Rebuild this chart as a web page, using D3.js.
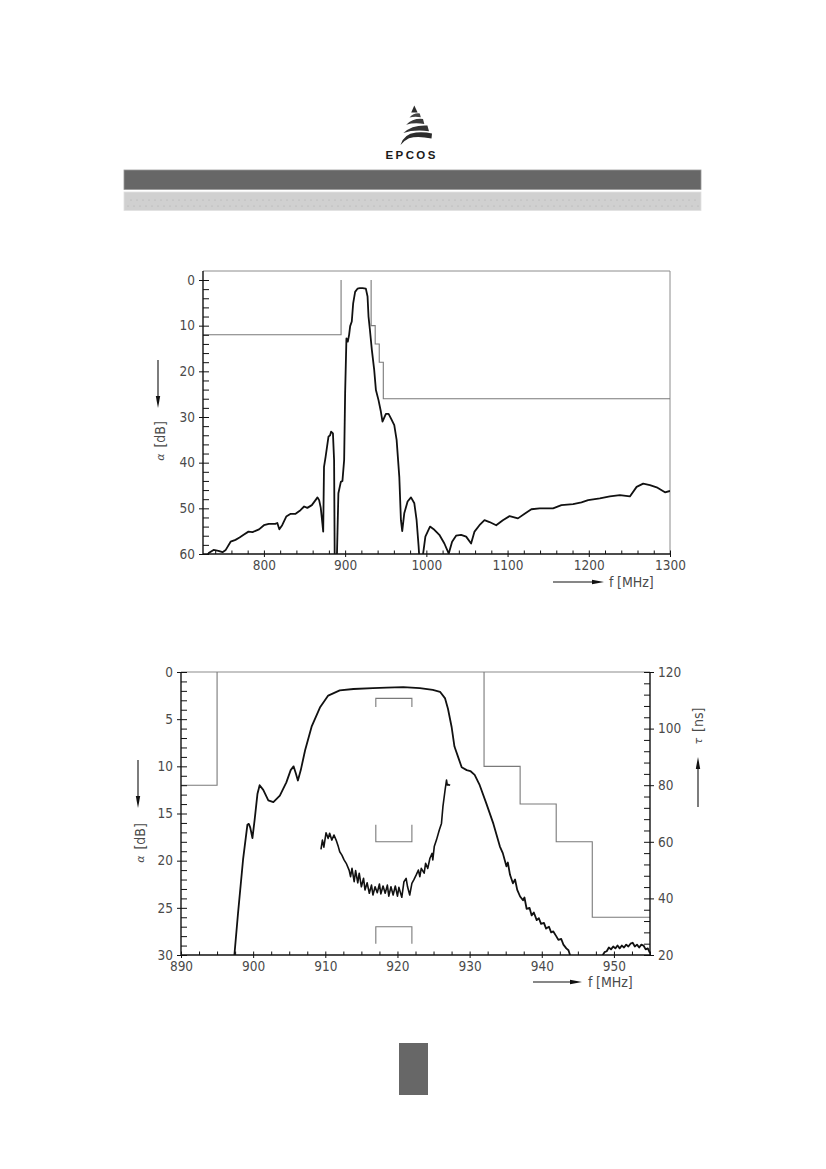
<!DOCTYPE html>
<html>
<head>
<meta charset="utf-8">
<script src="https://cdn.jsdelivr.net/npm/d3@7"></script>
<style>
body { margin: 0; background: #fff; }
svg text { font-family: "Liberation Sans Narrow", "DejaVu Sans Condensed", "Liberation Sans", sans-serif; fill: #4a4a4a; }
</style>
</head>
<body>
<div id="page"></div>
<script>
// ---- wide band attenuation (top chart) ----
var wideF = [728, 732, 738, 744, 749, 753, 759, 765, 770, 775, 781, 786, 794, 800, 806, 814, 816.5, 819, 822.5,
    827.5, 833, 839, 845, 849.5, 853.5, 859, 864, 866, 868, 870, 872, 873, 874, 876, 879.5, 881.5, 882.7, 885,
    886.4, 887.2, 889.7, 891.7, 894.7, 896.7, 898.8, 900, 901.6, 903.3, 904.9, 906.2, 908.2, 909.9, 912.3, 915.2,
    918, 921.4, 925.5, 927.6, 928.8, 930.5, 932.9, 935.8, 937.9, 941.1, 944, 946, 950.2, 953.5, 956.4, 960.5,
    963.4, 966.7, 968.7, 970.3, 972.8, 976.9, 981.1, 985.2, 988, 990.5, 991.8, 994.5, 998.8, 1004.5, 1009.9,
    1016, 1022.2, 1027.6, 1031.7, 1036.6, 1042.8, 1049, 1055.1, 1059.3, 1065.4, 1071.6, 1077.8, 1086, 1094.2,
    1102.5, 1112.8, 1121, 1129.3, 1139.5, 1156, 1166.3, 1180.7, 1191, 1199.2, 1213.6, 1226, 1238.3, 1250.6,
    1258.9, 1267, 1275.3, 1283.6, 1293.8, 1300];
var wideA = [61, 59.8, 59.1, 59.3, 59.6, 59.1, 57.3, 56.9, 56.4, 55.8, 55.1, 55.2, 54.6, 53.7, 53.4, 53.4, 53.2, 54.6, 53.7,
    51.8, 51.2, 51.2, 50.4, 49.6, 49.9, 49.3, 48.1, 47.6, 48.2, 49.9, 53.3, 55.1, 40.9, 38.7, 34.3, 34.0, 33.2, 33.6,
    39.4, 62, 62, 46.7, 44.2, 44.0, 39.4, 24.8, 12.8, 13.5, 12.0, 10.1, 9.1, 5.1, 2.6, 1.9,
    1.8, 1.8, 1.9, 3.6, 8.0, 10.9, 15.3, 19.7, 24.1, 26.3, 28.8, 31.0, 29.3, 29.3, 30.3, 31.8,
    35.0, 43.1, 52.6, 55.0, 51.1, 48.5, 47.6, 48.9, 52.6, 58.4, 62, 62, 56.2, 54.0, 54.7,
    55.8, 57.7, 59.9, 57.3, 56.0, 55.8, 56.2, 57.7, 55.1, 53.7, 52.6, 53.0, 53.7, 52.6,
    51.7, 52.2, 51.2, 50.2, 50.0, 50.0, 49.3, 49.1, 48.7, 48.2, 47.8, 47.4, 47.1, 47.4,
    45.3, 44.6, 44.9, 45.4, 46.5, 46.2];

// ---- pass band attenuation (bottom chart) ----
var passF = [896.5, 897.4, 897.9, 898.6, 899.2, 899.4, 899.6, 899.9, 900.2, 900.6, 900.9, 901.4, 902.1, 902.8, 903.7,
    904.6, 905.2, 905.6, 905.9, 906.2, 906.6, 907.2, 908.1, 909.3, 910.4, 912.0, 913.9, 916.6, 918.5, 920.8,
    923.1, 924.9, 925.9, 926.6, 927.0, 927.5, 927.9, 928.4, 928.9, 929.6, 930.1, 930.7, 931.4, 932.3, 933.3,
    934.2, 934.6, 935.1, 935.3, 935.6, 936.0, 936.3, 936.6, 937.0, 937.4, 937.6, 937.9, 938.3, 938.6, 938.9,
    939.3, 939.6, 939.9, 940.3, 940.6, 941.0, 941.3, 941.6, 942.0, 942.3, 942.7, 943.0, 943.4, 943.7, 944.0,
    946, 948.3, 948.7, 949.0, 949.3, 949.6, 949.9, 950.2, 950.5, 950.8, 951.1, 951.4, 951.7, 952.0, 952.3,
    952.6, 952.9, 953.2, 953.5, 953.8, 954.1, 954.4, 954.7, 955];
var passA = [32, 30, 25.6, 19.9, 16.2, 16.1, 16.5, 17.6, 15.7, 12.9, 12.0, 12.5, 13.6, 13.8, 13.1,
    11.7, 10.4, 10.0, 10.7, 11.5, 10.4, 8.3, 5.8, 3.7, 2.5, 1.95, 1.8, 1.7, 1.65, 1.6,
    1.7, 1.9, 2.1, 2.8, 3.9, 5.8, 7.9, 9.0, 10.1, 10.4, 10.5, 10.9, 12.0, 13.9, 16.1,
    18.5, 19.2, 20.6, 20.2, 21.5, 22.4, 22.0, 23.1, 23.8, 24.2, 23.9, 25.1, 25.0, 25.8, 25.5,
    26.3, 26.1, 26.7, 26.6, 27.2, 27.0, 27.6, 27.5, 28.0, 28.4, 28.3, 28.9, 29.3, 29.5, 30.2,
    31.5, 30.2, 29.7, 29.6, 29.2, 29.4, 29.1, 29.3, 29.0, 29.3, 29.0, 29.2, 28.9, 29.1, 28.8,
    28.7, 29.1, 28.9, 29.2, 28.9, 29.0, 29.4, 29.3, 29.8];

// ---- group delay (bottom chart, right axis) ----
var delayF = [909.4, 909.6, 909.8, 910.1, 910.4, 910.6, 910.9, 911.2, 911.5, 911.8, 912.0, 912.3, 912.6, 912.9,
    913.3, 913.5, 913.7, 914.0, 914.2, 914.5, 914.7, 915.0, 915.3, 915.5, 915.8, 916.1, 916.4, 916.6, 916.9,
    917.2, 917.5, 917.7, 918.0, 918.3, 918.6, 918.8, 919.1, 919.4, 919.7, 920.0, 920.2, 920.6, 920.9, 921.2,
    921.4, 921.7, 922.0, 922.3, 922.6, 922.9, 923.1, 923.3, 923.7, 923.9, 924.2, 924.5, 924.8, 924.9, 925.1,
    925.4, 925.8, 926.1, 926.3, 926.6, 926.8, 926.9, 927.1, 927.3];
var delayT = [57.3, 60.6, 58.1, 63.2, 61.2, 63.0, 60.6, 62.4, 60.6, 58.3, 56.5, 55.3, 53.6, 52.4,
    50.0, 47.7, 50.6, 45.9, 49.8, 45.5, 48.9, 44.1, 47.1, 43.0, 45.5, 41.8, 44.7, 41.2, 44.1,
    42.0, 45.1, 41.6, 44.4, 41.8, 44.7, 40.8, 44.1, 41.2, 44.4, 40.8, 43.9, 40.4, 45.9, 47.1,
    44.1, 41.2, 45.3, 46.7, 48.3, 50.0, 47.7, 50.6, 48.9, 52.4, 50.6, 54.2, 55.9, 53.6, 58.3,
    60.6, 64.2, 66.5, 72.4, 78.3, 81.8, 80.1, 80.2, 80.0];

// ---- tolerance scheme ----
var limitLowF = [725, 895, 895];
var limitLowA = [12, 12, 0];
var limitHighF = [932, 932, 937, 937, 942, 942, 947, 947, 1300];
var limitHighA = [0, 10, 10, 14, 14, 18, 18, 26, 26];
var bracketF = [917, 922];
var bracketAtt = [2.8, 3.7];      // insertion loss mark (dB)
var bracketDelayHi = [60, 66];   // group delay marks (ns)
var bracketDelayLo = [30, 24];

// ---- tick labels ----
var wideXTicks = [800, 900, 1000, 1100, 1200, 1300];
var wideYTicks = [0, 10, 20, 30, 40, 50, 60];
var passXTicks = [890, 900, 910, 920, 930, 940, 950];
var passYTicks = [0, 5, 10, 15, 20, 25, 30];
var delayTicks = [20, 40, 60, 80, 100, 120];

var svg = d3.select("#page")
    .append("svg")
    .attr("width", 826)
    .attr("height", 1169);

var defs = svg.append("defs");

// ===== header =====
var dots = defs.append("pattern")
    .attr("id", "dots")
    .attr("patternUnits", "userSpaceOnUse")
    .attr("x", 124).attr("y", 198)
    .attr("width", 6).attr("height", 12);
dots.append("circle").attr("cx", 1).attr("cy", 2).attr("r", 0.6).attr("fill", "#a8a8a8");
dots.append("circle").attr("cx", 4).attr("cy", 8).attr("r", 0.6).attr("fill", "#a8a8a8");

svg.append("rect").attr("x", 124).attr("y", 170).attr("width", 577).attr("height", 19.5)
    .attr("fill", "#676767").attr("stroke", "#9a9a9a").attr("stroke-width", 0.8);
svg.append("rect").attr("x", 124).attr("y", 192).attr("width", 577).attr("height", 18.5)
    .attr("fill", "#d0d0d0").attr("stroke", "#e0e0e0").attr("stroke-width", 0.8);
svg.append("rect").attr("x", 126).attr("y", 198).attr("width", 573).attr("height", 11)
    .attr("fill", "url(#dots)");

// logo
var logo = svg.append("g").attr("fill", "#2b2b2b");
logo.append("path").attr("d", "M414.3,105.5 L411.2,112.5 L417.6,112.5 Z");
logo.append("path").attr("d", "M409.5,117.5 Q414,112.6 419.8,113.4 L420.8,117.2 Q414.5,116.2 409.5,117.5 Z").attr("fill", "#444");
logo.append("path").attr("d", "M406.2,124.8 Q413,118 423,119 L424.3,124 Q414,122.4 406.2,124.8 Z").attr("fill", "#3a3a3a");
logo.append("path").attr("d", "M403.4,133 Q412,124.8 427.4,125.6 L429,131.2 Q414,129.2 403.4,133 Z").attr("fill", "#333");
logo.append("path").attr("d", "M400.5,145 Q403.5,134 416,132.5 Q425,131.8 432,133.6 L431.5,138.6 Q418,135.6 409,138.2 Q404,140.5 400.5,145 Z").attr("fill", "#2b2b2b");
svg.append("text")
    .attr("x", 385.5).attr("y", 158.5)
    .style("font-family", "'Liberation Sans', Arial, sans-serif")
    .style("font-weight", "bold")
    .style("font-size", "11.5px")
    .style("letter-spacing", "2.4px")
    .style("fill", "#1a1a1a")
    .text("EPCOS");

// page number box
svg.append("rect").attr("x", 399).attr("y", 1043).attr("width", 29).attr("height", 52)
    .attr("fill", "#676767");

// ===== helpers =====
function arrow(x1, y1, x2, y2) {
    var len = Math.hypot(x2 - x1, y2 - y1);
    var ux = (x2 - x1) / len, uy = (y2 - y1) / len;
    var hl = 12, hw = 2.2;
    var bx = x2 - ux * hl, by = y2 - uy * hl;
    svg.append("line")
        .attr("x1", x1).attr("y1", y1).attr("x2", bx).attr("y2", by)
        .attr("stroke", "#111").attr("stroke-width", 1.1);
    svg.append("path")
        .attr("d", "M" + x2 + "," + y2 + " L" + (bx - uy * hw) + "," + (by + ux * hw) +
            " L" + (bx + uy * hw) + "," + (by - ux * hw) + " Z")
        .attr("fill", "#111");
}

function rotTitle(x, y, sym, unit) {
    var t = svg.append("text")
        .attr("transform", "translate(" + x + "," + y + ") rotate(-90)")
        .attr("text-anchor", "middle")
        .attr("dominant-baseline", "central")
        .style("font-size", "14px");
    t.append("tspan").style("font-style", "italic").style("font-family", "'DejaVu Sans', sans-serif")
        .style("font-size", "11px").text(sym);
    t.append("tspan").attr("dx", 6).text(unit);
}

function styleAxis(g) {
    g.select(".domain").remove();
    g.selectAll(".tick line").attr("stroke", "#111").attr("stroke-width", 1);
    g.selectAll(".tick text").style("font-size", "13.5px")
        .style("font-family", "'Liberation Sans Narrow', 'DejaVu Sans Condensed', sans-serif")
        .attr("fill", "#555");
}

function hline(x1, x2, y, col, w) {
    svg.append("line").attr("x1", x1).attr("x2", x2).attr("y1", y).attr("y2", y)
        .attr("stroke", col).attr("stroke-width", w);
}
function vline(x, y1, y2, col, w) {
    svg.append("line").attr("x1", x).attr("x2", x).attr("y1", y1).attr("y2", y2)
        .attr("stroke", col).attr("stroke-width", w);
}

var plain = d3.format("d");

// ===== chart 1: wide band =====
var c1 = {left: 203, right: 670, top: 271, bottom: 554};
var x1 = d3.scaleLinear().domain([725, 1300]).range([c1.left, c1.right]);
var y1 = d3.scaleLinear().domain([0, 60]).range([280, c1.bottom]);

defs.append("clipPath").attr("id", "clip1").append("rect")
    .attr("x", c1.left).attr("y", c1.top)
    .attr("width", c1.right - c1.left).attr("height", c1.bottom - c1.top);

hline(c1.left, c1.right, c1.top, "#8c8c8c", 1);
vline(c1.right, c1.top, c1.bottom, "#8c8c8c", 1);

var line1 = d3.line().x(d => x1(d[0])).y(d => y1(d[1]));
var plot1 = svg.append("g").attr("clip-path", "url(#clip1)");
plot1.append("path").datum(d3.zip(limitLowF, limitLowA)).attr("d", line1)
    .attr("fill", "none").attr("stroke", "#7a7a7a").attr("stroke-width", 1.1);
plot1.append("path").datum(d3.zip(limitHighF, limitHighA)).attr("d", line1)
    .attr("fill", "none").attr("stroke", "#7a7a7a").attr("stroke-width", 1.1);
plot1.append("path").datum(d3.zip(wideF, wideA)).attr("d", line1)
    .attr("fill", "none").attr("stroke", "#111").attr("stroke-width", 1.8)
    .attr("stroke-linejoin", "round");

svg.append("g").attr("transform", `translate(${c1.left},0)`)
    .call(d3.axisLeft(y1).tickValues(d3.range(0, 61, 2)).tickSize(-6).tickFormat(""))
    .call(styleAxis);
svg.append("g").attr("transform", `translate(${c1.left},0)`)
    .call(d3.axisLeft(y1).tickValues(wideYTicks).tickSize(4).tickPadding(4).tickFormat(plain))
    .call(styleAxis);
svg.append("g").attr("transform", `translate(0,${c1.bottom})`)
    .call(d3.axisBottom(x1).tickValues(d3.range(740, 1301, 20)).tickSize(-3.5).tickFormat(""))
    .call(styleAxis);
svg.append("g").attr("transform", `translate(0,${c1.bottom})`)
    .call(d3.axisBottom(x1).tickValues(wideXTicks).tickSize(3).tickPadding(3).tickFormat(plain))
    .call(styleAxis);
vline(c1.left, c1.top, c1.bottom, "#111", 1.4);
hline(c1.left, c1.right, c1.bottom, "#111", 1.4);

rotTitle(160, 441, "α", "[dB]");
arrow(158, 360, 158, 408);
arrow(553, 582, 604, 582);
svg.append("text").attr("x", 609).attr("y", 587).style("font-size", "14px").text("f");
svg.append("text").attr("x", 617).attr("y", 587).style("font-size", "14px").text("[MHz]");

// ===== chart 2: pass band =====
var c2 = {left: 181, right: 650, top: 672, bottom: 955};
var x2 = d3.scaleLinear().domain([890, 955]).range([c2.left, c2.right]);
var y2 = d3.scaleLinear().domain([0, 30]).range([c2.top, c2.bottom]);
var t2 = d3.scaleLinear().domain([20, 120]).range([c2.bottom, c2.top]);

defs.append("clipPath").attr("id", "clip2").append("rect")
    .attr("x", c2.left).attr("y", c2.top - 1)
    .attr("width", c2.right - c2.left).attr("height", c2.bottom - c2.top + 1);

hline(c2.left, c2.right, c2.top, "#8c8c8c", 1.1);

var line2 = d3.line().x(d => x2(d[0])).y(d => y2(d[1]));
var lineT = d3.line().x(d => x2(d[0])).y(d => t2(d[1]));
var plot2 = svg.append("g").attr("clip-path", "url(#clip2)");
plot2.append("path").datum(d3.zip(limitLowF, limitLowA)).attr("d", line2)
    .attr("fill", "none").attr("stroke", "#7a7a7a").attr("stroke-width", 1.1);
plot2.append("path").datum(d3.zip(limitHighF, limitHighA)).attr("d", line2)
    .attr("fill", "none").attr("stroke", "#7a7a7a").attr("stroke-width", 1.1);

// spec brackets
var brA = [[bracketF[0], bracketAtt[1]], [bracketF[0], bracketAtt[0]], [bracketF[1], bracketAtt[0]], [bracketF[1], bracketAtt[1]]];
plot2.append("path").datum(brA).attr("d", line2)
    .attr("fill", "none").attr("stroke", "#7a7a7a").attr("stroke-width", 1.1);
[bracketDelayHi, bracketDelayLo].forEach(function(b) {
    var pts = [[bracketF[0], b[1]], [bracketF[0], b[0]], [bracketF[1], b[0]], [bracketF[1], b[1]]];
    plot2.append("path").datum(pts).attr("d", lineT)
        .attr("fill", "none").attr("stroke", "#7a7a7a").attr("stroke-width", 1.1);
});

plot2.append("path").datum(d3.zip(passF, passA)).attr("d", line2)
    .attr("fill", "none").attr("stroke", "#111").attr("stroke-width", 1.8)
    .attr("stroke-linejoin", "round");
plot2.append("path").datum(d3.zip(delayF, delayT)).attr("d", lineT)
    .attr("fill", "none").attr("stroke", "#111").attr("stroke-width", 1.6)
    .attr("stroke-linejoin", "round");

svg.append("g").attr("transform", `translate(${c2.left},0)`)
    .call(d3.axisLeft(y2).tickValues(d3.range(0, 31, 1)).tickSize(-6).tickFormat(""))
    .call(styleAxis);
svg.append("g").attr("transform", `translate(${c2.left},0)`)
    .call(d3.axisLeft(y2).tickValues(passYTicks).tickSize(4).tickPadding(4).tickFormat(plain))
    .call(styleAxis);
svg.append("g").attr("transform", `translate(${c2.right},0)`)
    .call(d3.axisRight(t2).tickValues(d3.range(20, 121, 4)).tickSize(-6).tickFormat(""))
    .call(styleAxis);
svg.append("g").attr("transform", `translate(${c2.right},0)`)
    .call(d3.axisRight(t2).tickValues(delayTicks).tickSize(4).tickPadding(4).tickFormat(plain))
    .call(styleAxis);
svg.append("g").attr("transform", `translate(0,${c2.bottom})`)
    .call(d3.axisBottom(x2).tickValues(d3.range(890, 955.1, 2.5)).tickSize(-3.5).tickFormat(""))
    .call(styleAxis);
svg.append("g").attr("transform", `translate(0,${c2.bottom})`)
    .call(d3.axisBottom(x2).tickValues(passXTicks).tickSize(3).tickPadding(3).tickFormat(plain))
    .call(styleAxis);
vline(c2.left, c2.top, c2.bottom, "#111", 1.4);
vline(c2.right, c2.top, c2.bottom, "#111", 1.4);
hline(c2.left, c2.right, c2.bottom, "#111", 1.4);

rotTitle(140, 843, "α", "[dB]");
arrow(138, 760, 138, 808);
rotTitle(698, 726, "τ", "[ns]");
arrow(698, 807, 698, 757);
arrow(533, 982, 582, 982);
svg.append("text").attr("x", 588).attr("y", 987).style("font-size", "14px").text("f");
svg.append("text").attr("x", 596).attr("y", 987).style("font-size", "14px").text("[MHz]");
</script>
</body>
</html>
